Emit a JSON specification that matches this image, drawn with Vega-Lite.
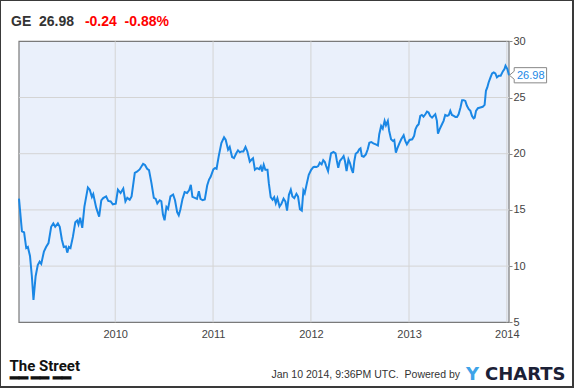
{
  "$schema": "https://vega.github.io/schema/vega-lite/v6.json",
  "width": 573,
  "height": 387,
  "autosize": {"type": "none"},
  "padding": {"left": 0, "top": 0, "right": 2, "bottom": 1},
  "background": "#ffffff",
  "config": {
    "view": {"stroke": "#3a3a3a", "strokeWidth": 2, "fill": "#ffffff"},
    "font": "Liberation Sans"
  },
  "title": {
    "text": "GE\u00a0 26.98",
    "subtitle": "\u200b\u00a0\u00a0\u00a0\u00a0\u00a0\u00a0\u00a0\u00a0\u00a0\u00a0\u00a0\u00a0\u00a0\u00a0\u00a0\u00a0\u00a0\u00a0\u00a0-0.24\u00a0\u00a0-0.88%",
    "anchor": "start",
    "frame": "group",
    "orient": "top",
    "dx": 11,
    "offset": -28.5,
    "font": "Liberation Sans",
    "fontSize": 14,
    "fontWeight": "bold",
    "color": "#333333",
    "subtitleFont": "Liberation Sans",
    "subtitleFontSize": 14,
    "subtitleFontWeight": "bold",
    "subtitleColor": "#ff0000",
    "subtitlePadding": -14
  },
  "datasets": {
    "ge": [
      {"date":"2009-01-07","price":16.0},{"date":"2009-01-18","price":13.1},{"date":"2009-01-26","price":13.0},{"date":"2009-02-03","price":11.6},{"date":"2009-02-09","price":11.7},{"date":"2009-02-17","price":10.9},{"date":"2009-02-24","price":9.1},{"date":"2009-03-02","price":7.0},{"date":"2009-03-10","price":9.1},{"date":"2009-03-18","price":10.1},{"date":"2009-03-25","price":10.4},{"date":"2009-03-31","price":10.2},{"date":"2009-04-10","price":11.3},{"date":"2009-04-18","price":11.7},{"date":"2009-04-27","price":12.05},{"date":"2009-05-07","price":13.5},{"date":"2009-05-15","price":13.8},{"date":"2009-05-22","price":13.5},{"date":"2009-06-01","price":13.8},{"date":"2009-06-08","price":13.5},{"date":"2009-06-16","price":12.35},{"date":"2009-06-23","price":11.7},{"date":"2009-07-01","price":11.75},{"date":"2009-07-06","price":11.2},{"date":"2009-07-12","price":11.7},{"date":"2009-07-18","price":11.6},{"date":"2009-07-27","price":12.6},{"date":"2009-08-05","price":13.9},{"date":"2009-08-12","price":14.05},{"date":"2009-08-17","price":13.7},{"date":"2009-08-23","price":14.3},{"date":"2009-08-31","price":13.4},{"date":"2009-09-08","price":15.3},{"date":"2009-09-21","price":17.0},{"date":"2009-09-28","price":16.8},{"date":"2009-10-06","price":16.15},{"date":"2009-10-11","price":16.4},{"date":"2009-10-22","price":15.2},{"date":"2009-11-02","price":14.4},{"date":"2009-11-10","price":15.85},{"date":"2009-11-17","price":16.05},{"date":"2009-11-28","price":16.2},{"date":"2009-12-06","price":15.8},{"date":"2009-12-15","price":15.75},{"date":"2009-12-23","price":15.5},{"date":"2010-01-03","price":15.55},{"date":"2010-01-11","price":16.8},
      {"date":"2010-01-21","price":16.5},{"date":"2010-01-31","price":16.9},{"date":"2010-02-08","price":15.75},{"date":"2010-02-15","price":16.07},{"date":"2010-02-24","price":15.9},{"date":"2010-03-03","price":16.2},{"date":"2010-03-15","price":18.3},{"date":"2010-03-23","price":18.4},{"date":"2010-04-02","price":18.6},{"date":"2010-04-15","price":19.1},{"date":"2010-04-22","price":19.0},{"date":"2010-04-30","price":18.66},{"date":"2010-05-07","price":18.54},{"date":"2010-05-16","price":17.4},{"date":"2010-05-25","price":16.07},{"date":"2010-06-01","price":15.98},{"date":"2010-06-07","price":15.57},{"date":"2010-06-16","price":15.86},{"date":"2010-06-22","price":15.77},{"date":"2010-06-28","price":14.58},{"date":"2010-07-04","price":14.08},{"date":"2010-07-11","price":15.27},{"date":"2010-07-17","price":15.09},{"date":"2010-07-26","price":16.2},{"date":"2010-08-05","price":16.37},{"date":"2010-08-12","price":15.86},{"date":"2010-08-20","price":14.8},{"date":"2010-08-26","price":14.52},{"date":"2010-09-01","price":15.03},{"date":"2010-09-09","price":15.98},{"date":"2010-09-17","price":16.58},{"date":"2010-09-26","price":16.5},{"date":"2010-10-04","price":16.76},{"date":"2010-10-10","price":17.23},{"date":"2010-10-16","price":16.16},{"date":"2010-10-25","price":16.07},{"date":"2010-11-02","price":15.98},{"date":"2010-11-09","price":16.67},{"date":"2010-11-15","price":15.98},{"date":"2010-11-23","price":15.86},{"date":"2010-12-01","price":15.92},{"date":"2010-12-10","price":17.17},{"date":"2010-12-17","price":17.7},{"date":"2010-12-23","price":17.95},{"date":"2011-01-02","price":18.6},{"date":"2011-01-08","price":18.72},
      {"date":"2011-01-14","price":18.66},{"date":"2011-01-22","price":19.76},{"date":"2011-02-01","price":20.95},{"date":"2011-02-11","price":21.46},{"date":"2011-02-17","price":21.25},{"date":"2011-02-26","price":20.36},{"date":"2011-03-04","price":20.6},{"date":"2011-03-13","price":19.7},{"date":"2011-03-20","price":19.61},{"date":"2011-03-29","price":20.06},{"date":"2011-04-04","price":20.3},{"date":"2011-04-11","price":20.12},{"date":"2011-04-17","price":20.2},{"date":"2011-04-24","price":20.2},{"date":"2011-05-02","price":20.6},{"date":"2011-05-09","price":20.2},{"date":"2011-05-18","price":19.3},{"date":"2011-05-24","price":19.46},{"date":"2011-05-30","price":19.6},{"date":"2011-06-06","price":18.57},{"date":"2011-06-14","price":18.72},{"date":"2011-06-22","price":18.63},{"date":"2011-06-28","price":18.87},{"date":"2011-07-03","price":18.42},{"date":"2011-07-09","price":19.02},{"date":"2011-07-15","price":18.57},{"date":"2011-07-23","price":18.57},{"date":"2011-07-28","price":17.38},{"date":"2011-08-04","price":16.13},{"date":"2011-08-11","price":15.9},{"date":"2011-08-17","price":16.13},{"date":"2011-08-23","price":15.6},{"date":"2011-08-29","price":16.04},{"date":"2011-09-06","price":15.3},{"date":"2011-09-13","price":15.54},{"date":"2011-09-21","price":16.0},{"date":"2011-09-28","price":15.74},{"date":"2011-10-04","price":14.94},{"date":"2011-10-11","price":16.34},{"date":"2011-10-18","price":16.79},{"date":"2011-10-24","price":16.19},{"date":"2011-10-31","price":16.04},{"date":"2011-11-08","price":16.43},{"date":"2011-11-14","price":16.19},{"date":"2011-11-21","price":15.06},{"date":"2011-11-28","price":14.94},{"date":"2011-12-04","price":16.73},{"date":"2011-12-09","price":16.49},{"date":"2011-12-17","price":17.38},{"date":"2011-12-24","price":18.13},{"date":"2012-01-02","price":18.57},{"date":"2012-01-10","price":18.81},
      {"date":"2012-01-14","price":18.84},{"date":"2012-01-22","price":18.81},{"date":"2012-01-28","price":18.9},{"date":"2012-02-03","price":19.2},{"date":"2012-02-10","price":19.05},{"date":"2012-02-16","price":19.43},{"date":"2012-02-22","price":19.26},{"date":"2012-02-27","price":18.9},{"date":"2012-03-05","price":18.45},{"date":"2012-03-10","price":19.2},{"date":"2012-03-16","price":20.03},{"date":"2012-03-25","price":20.15},{"date":"2012-04-02","price":20.03},{"date":"2012-04-07","price":19.35},{"date":"2012-04-12","price":18.75},{"date":"2012-04-18","price":19.35},{"date":"2012-04-25","price":19.55},{"date":"2012-05-02","price":19.79},{"date":"2012-05-07","price":19.35},{"date":"2012-05-13","price":18.45},{"date":"2012-05-20","price":19.49},{"date":"2012-05-26","price":19.14},{"date":"2012-06-01","price":18.6},{"date":"2012-06-06","price":18.3},{"date":"2012-06-11","price":19.35},{"date":"2012-06-16","price":20.0},{"date":"2012-06-24","price":20.15},{"date":"2012-06-29","price":20.39},{"date":"2012-07-04","price":20.48},{"date":"2012-07-09","price":19.79},{"date":"2012-07-16","price":19.73},{"date":"2012-07-24","price":19.94},{"date":"2012-07-31","price":20.39},{"date":"2012-08-06","price":20.98},{"date":"2012-08-13","price":21.04},{"date":"2012-08-21","price":20.92},{"date":"2012-08-30","price":20.83},{"date":"2012-09-07","price":20.74},{"date":"2012-09-12","price":21.73},{"date":"2012-09-19","price":22.47},{"date":"2012-09-25","price":22.23},{"date":"2012-10-02","price":22.92},{"date":"2012-10-07","price":22.53},{"date":"2012-10-14","price":22.92},{"date":"2012-10-19","price":22.02},{"date":"2012-10-26","price":21.28},{"date":"2012-11-02","price":21.13},{"date":"2012-11-07","price":21.22},{"date":"2012-11-13","price":20.09},{"date":"2012-11-18","price":20.45},{"date":"2012-11-26","price":20.92},{"date":"2012-12-03","price":21.28},{"date":"2012-12-12","price":21.64},{"date":"2012-12-18","price":21.13},{"date":"2012-12-24","price":20.83},{"date":"2013-01-03","price":21.22},{"date":"2013-01-13","price":21.28},{"date":"2013-01-20","price":21.58},{"date":"2013-01-25","price":22.17},
      {"date":"2013-01-31","price":22.47},{"date":"2013-02-06","price":22.62},{"date":"2013-02-12","price":23.36},{"date":"2013-02-18","price":23.45},{"date":"2013-02-24","price":23.3},{"date":"2013-03-03","price":23.51},{"date":"2013-03-09","price":23.75},{"date":"2013-03-15","price":23.66},{"date":"2013-03-21","price":23.36},{"date":"2013-03-28","price":23.21},{"date":"2013-04-03","price":23.36},{"date":"2013-04-09","price":23.51},{"date":"2013-04-15","price":22.92},{"date":"2013-04-19","price":21.79},{"date":"2013-04-25","price":22.17},{"date":"2013-05-04","price":22.62},{"date":"2013-05-10","price":22.92},{"date":"2013-05-16","price":23.45},{"date":"2013-05-23","price":23.36},{"date":"2013-05-29","price":23.42},{"date":"2013-06-04","price":23.81},{"date":"2013-06-10","price":23.45},{"date":"2013-06-17","price":23.36},{"date":"2013-06-23","price":23.27},{"date":"2013-06-29","price":23.27},{"date":"2013-07-05","price":23.51},{"date":"2013-07-12","price":24.11},{"date":"2013-07-18","price":24.76},{"date":"2013-07-24","price":24.76},{"date":"2013-07-30","price":24.7},{"date":"2013-08-05","price":24.26},{"date":"2013-08-12","price":23.96},{"date":"2013-08-18","price":23.81},{"date":"2013-08-24","price":23.36},{"date":"2013-08-30","price":23.15},{"date":"2013-09-03","price":23.21},{"date":"2013-09-08","price":23.81},{"date":"2013-09-15","price":24.05},{"date":"2013-09-24","price":24.11},{"date":"2013-10-03","price":24.17},{"date":"2013-10-10","price":24.35},{"date":"2013-10-15","price":25.6},{"date":"2013-10-20","price":25.89},{"date":"2013-10-25","price":26.34},{"date":"2013-11-01","price":26.79},{"date":"2013-11-07","price":27.14},{"date":"2013-11-13","price":27.23},{"date":"2013-11-19","price":27.14},{"date":"2013-11-25","price":26.79},{"date":"2013-12-02","price":26.93},{"date":"2013-12-09","price":26.93},{"date":"2013-12-17","price":27.32},{"date":"2013-12-23","price":27.53},{"date":"2013-12-27","price":27.83},{"date":"2014-01-03","price":27.53},{"date":"2014-01-09","price":26.98}
    ],
    "gridx": [{"t":"2010-01-01"},{"t":"2011-01-01"},{"t":"2012-01-01"},{"t":"2013-01-01"},{"t":"2014-01-01"}],
    "gridy": [{"v":10},{"v":15},{"v":20},{"v":25}]
  },
  "layer": [
    {
      "data": {"values": [{}]},
      "mark": {"type": "rect", "fill": "#eaf0fb", "stroke": "#7a7a7a", "strokeWidth": 1.2},
      "encoding": {
        "x": {"datum": {"year": 2009, "month": 1, "date": 7, "utc": true}, "type": "temporal"},
        "x2": {"datum": {"year": 2014, "month": 1, "date": 9, "utc": true}},
        "y": {"datum": 5, "type": "quantitative"},
        "y2": {"datum": 30}
      }
    },
    {
      "data": {"name": "gridx"},
      "mark": {"type": "rule", "color": "#d4d4d4", "strokeWidth": 1},
      "encoding": {
        "x": {"field": "t", "type": "temporal"},
        "y": {"datum": 5, "type": "quantitative"},
        "y2": {"datum": 30}
      }
    },
    {
      "data": {"name": "gridy"},
      "mark": {"type": "rule", "color": "#d4d4d4", "strokeWidth": 1},
      "encoding": {
        "y": {"field": "v", "type": "quantitative"},
        "x": {"datum": {"year": 2009, "month": 1, "date": 7, "utc": true}, "type": "temporal"},
        "x2": {"datum": {"year": 2014, "month": 1, "date": 9, "utc": true}}
      }
    },
    {
      "data": {"name": "ge"},
      "mark": {"type": "line", "strokeWidth": 2, "interpolate": "linear"},
      "encoding": {
        "x": {
          "field": "date", "type": "temporal",
          "scale": {"type": "utc", "domain": [{"year": 2009, "month": 1, "date": 7, "utc": true}, {"year": 2014, "month": 1, "date": 9, "utc": true}], "range": [19, 509]},
          "axis": {
            "orient": "bottom", "offset": -64.7, "grid": false, "domain": false, "ticks": false,
            "tickCount": {"interval": "year", "step": 1}, "format": "%Y", "labelFlush": false,
            "labelPadding": 6, "labelFont": "Liberation Sans", "labelFontSize": 11, "labelColor": "#444444",
            "title": "Jan 10 2014, 9:36PM UTC.\u00a0 Powered by",
            "titleX": 271, "titleY": 55.2, "titleAlign": "left", "titleAnchor": "start", "titleBaseline": "alphabetic",
            "titleFont": "Liberation Sans", "titleFontSize": 10.5, "titleFontWeight": "normal", "titleColor": "#333333"
          }
        },
        "y": {
          "field": "price", "type": "quantitative",
          "scale": {"domain": [5, 30], "range": [322.3, 41.3], "zero": false, "nice": false},
          "axis": {
            "orient": "right", "offset": -64, "grid": false, "domain": false, "ticks": true, "tickSize": 3, "tickColor": "#888888",
            "values": [5, 10, 15, 20, 25, 30], "labelFlush": false, "labelOverlap": false,
            "labelPadding": 1, "labelFont": "Liberation Sans", "labelFontSize": 11, "labelColor": "#444444",
            "title": ["The Street", "\u2501\u2501 \u2501\u2501 \u2501\u2501"],
            "titleX": -500, "titleY": 370.5, "titleAngle": 0, "titleAlign": "left", "titleAnchor": "start", "titleBaseline": "alphabetic",
            "titleFont": "Roboto", "titleFontSize": 15, "titleFontWeight": "bold", "titleColor": "#111111", "titleLineHeight": 12
          }
        },
        "color": {
          "datum": "CHARTS", "type": "nominal",
          "scale": {"domain": ["CHARTS"], "range": ["#1a87e5"]},
          "legend": {
            "orient": "none", "legendX": 466, "legendY": 366, "padding": 0,
            "title": "Y", "titleOrient": "left", "titleColor": "#3ea3e8", "titleFont": "DejaVu Sans", "titleFontSize": 18, "titleFontWeight": "bold", "titlePadding": -13,
            "labelFont": "DejaVu Sans", "labelFontSize": 18, "labelFontWeight": "bold", "labelColor": "#1b2036", "labelOffset": 0,
            "symbolSize": 0, "symbolStrokeWidth": 0, "symbolOpacity": 0
          }
        }
      }
    },
    {
      "data": {"name": "ge"},
      "transform": [
        {"window": [{"op": "row_number", "as": "rn"}], "sort": [{"field": "date", "order": "descending"}]},
        {"filter": "datum.rn === 1"}
      ],
      "mark": {"type": "point", "shape": "M0.01,0L0.13,-0.1L0.13,-0.19L0.94,-0.19L0.94,0.19L0.13,0.19L0.13,0.1Z", "size": 6400, "filled": true, "fill": "#ffffff", "stroke": "#888888", "strokeWidth": 1, "opacity": 1},
      "encoding": {
        "x": {"field": "date", "type": "temporal"},
        "y": {"field": "price", "type": "quantitative"}
      }
    },
    {
      "data": {"name": "ge"},
      "transform": [
        {"window": [{"op": "row_number", "as": "rn"}], "sort": [{"field": "date", "order": "descending"}]},
        {"filter": "datum.rn === 1"}
      ],
      "mark": {"type": "text", "align": "left", "baseline": "middle", "dx": 8, "dy": 0.5, "font": "Liberation Sans", "fontSize": 11, "color": "#1a87e5"},
      "encoding": {
        "x": {"field": "date", "type": "temporal"},
        "y": {"field": "price", "type": "quantitative"},
        "text": {"field": "price", "type": "quantitative", "format": ".2f"}
      }
    }
  ]
}
